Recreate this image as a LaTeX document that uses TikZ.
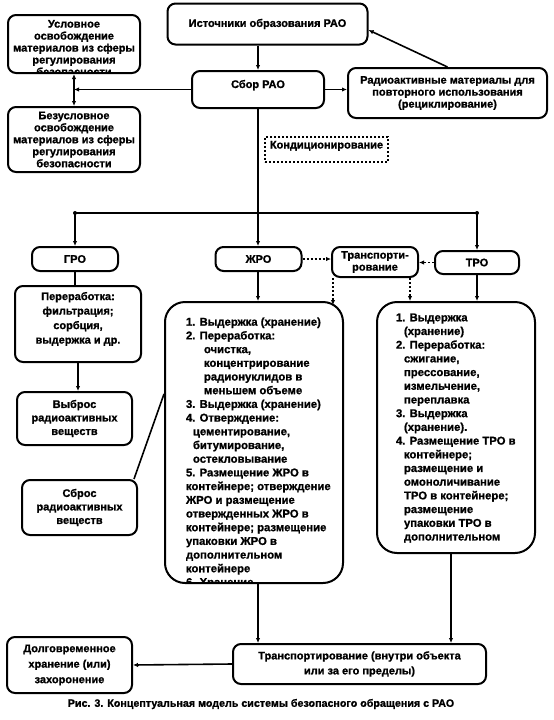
\documentclass[tikz,border=0pt]{standalone}
\usepackage{fontspec}
\setmainfont{Liberation Sans}[BoldFeatures={FakeBold=1.2}]
\usetikzlibrary{arrows.meta,calc}
\begin{document}
\begin{tikzpicture}[x=1pt,y=-1pt,
  every node/.style={font=\bfseries\fontsize{11}{12}\selectfont, inner sep=0pt},
  box/.style={draw, line width=2pt, rounded corners=8pt, align=center},
  bigbox/.style={draw, line width=2pt, rounded corners=20pt},
  inner/.style={minimum width=0pt, minimum height=0pt},
  conn/.style={line width=1.6pt},
  arr/.style={conn, -{Latex[length=5pt,width=4.5pt]}},
  dblarr/.style={conn, {Latex[length=5pt,width=4.5pt]}-{Latex[length=5pt,width=4.5pt]}},
  dotln/.style={line width=1.6pt, dash pattern=on 2pt off 2pt},
  dotarr/.style={dotln, -{Latex[length=5pt,width=4.5pt]}},
  listtext/.style={inner, anchor=north west, align=left, font=\bfseries\fontsize{11.3}{13.7}\selectfont}
]
\useasboundingbox (0,0) rectangle (554,720);

% top row
\node[box, minimum width=200pt, minimum height=41pt] (src) at (267.5,24) {Источники образования РАО};
\node[box, minimum width=132pt, minimum height=37pt, text height=8pt, text depth=11pt] (sbor) at (258,89.5) {Сбор РАО};
\node[box, minimum width=199pt, minimum height=50pt] (recyc) at (447.5,93) {Радиоактивные материалы для\\повторного использования\\(рециклирование)};

\node[box, minimum width=132pt, minimum height=58pt,
  path picture={\node[inner, anchor=north, align=center] (uslt) at ([yshift=-4pt]path picture bounding box.north) {Условное\\освобождение\\материалов из сферы\\регулирования\\безопасности};}] (usl) at (74,44) {};
\node[box, minimum width=132pt, minimum height=65pt] (bezusl) at (74,139.5) {Безусловное\\освобождение\\материалов из сферы\\регулирования\\безопасности};

\node[draw, dotln, minimum width=123pt, minimum height=25pt, text height=8pt, text depth=10pt] (cond) at (326.5,149.5) {Кондиционирование};

% second level
\node[box, minimum width=86pt, minimum height=24pt] (gro) at (75,259) {ГРО};
\node[box, minimum width=86pt, minimum height=24pt] (zhro) at (258.5,259) {ЖРО};
\node[box, minimum width=86pt, minimum height=30pt] (transp) at (375,262) {Транспорти-\\рование};
\node[box, minimum width=84pt, minimum height=23pt] (tro) at (477,262.5) {ТРО};

% left column
\node[box, minimum width=126pt, minimum height=76pt,
  path picture={\node[inner, anchor=north, align=center, font=\bfseries\fontsize{11}{14.5}\selectfont] (peret) at ([yshift=-5pt]path picture bounding box.north) {Переработка:\\фильтрация;\\сорбция,\\выдержка и др.};}] (pere) at (78,324) {};
\node[box, minimum width=115pt, minimum height=53pt, font=\bfseries\fontsize{11}{13.5}\selectfont] (vybros) at (74.5,418.5) {Выброс\\радиоактивных\\веществ};
\node[box, minimum width=115pt, minimum height=55pt, font=\bfseries\fontsize{11}{13.5}\selectfont] (sbros) at (79.5,507.5) {Сброс\\радиоактивных\\веществ};

% big boxes
\node[bigbox, minimum width=178pt, minimum height=281pt,
  path picture={\node[listtext] (zhrolist) at ($(path picture bounding box.north west)+(20,14.5)$) {%
1. Выдержка (хранение)\\
2. Переработка:\\
\hspace*{18pt}очистка,\\
\hspace*{18pt}концентрирование\\
\hspace*{18pt}радионуклидов в\\
\hspace*{18pt}меньшем объеме\\
3. Выдержка (хранение)\\
4. Отверждение:\\
\hspace*{7pt}цементирование,\\
\hspace*{7pt}битумирование,\\
\hspace*{7pt}остекловывание\\
5. Размещение ЖРО в\\
контейнере; отверждение\\
ЖРО и размещение\\
отвержденных ЖРО в\\
контейнере; размещение\\
упаковки ЖРО в\\
дополнительном\\
контейнере\\
6. Хранение};}] (zhrobig) at (254,442.5) {};

\node[bigbox, minimum width=158pt, minimum height=251pt,
  path picture={\node[listtext] (trolist) at ($(path picture bounding box.north west)+(18,10.5)$) {%
1. Выдержка\\
\hspace*{8pt}(хранение)\\
2. Переработка:\\
\hspace*{8pt}сжигание,\\
\hspace*{8pt}прессование,\\
\hspace*{8pt}измельчение,\\
\hspace*{8pt}переплавка\\
3. Выдержка\\
\hspace*{8pt}(хранение).\\
4. Размещение ТРО в\\
\hspace*{8pt}контейнере;\\
\hspace*{8pt}размещение и\\
\hspace*{8pt}омоноличивание\\
\hspace*{8pt}ТРО в контейнере;\\
\hspace*{8pt}размещение\\
\hspace*{8pt}упаковки ТРО в\\
\hspace*{8pt}дополнительном};}] (trobig) at (456,427.5) {};

% bottom
\node[box, minimum width=253pt, minimum height=40pt, font=\bfseries\fontsize{11}{15}\selectfont] (transp2) at (359.5,664) {Транспортирование (внутри объекта\\или за его пределы)};
\node[box, minimum width=125pt, minimum height=56pt, font=\bfseries\fontsize{11}{15.5}\selectfont] (dolg) at (69.5,665) {Долговременное\\хранение (или)\\захоронение};

\node[font=\bfseries\fontsize{10.7}{12}\selectfont] (caption) at (261,704) {Рис. 3. Концептуальная модель системы безопасного обращения с РАО};

% coordinates
\coordinate (jm) at (258,213);
\coordinate (jl) at (gro.north |- jm);
\coordinate (jr) at (tro.north |- jm);
\coordinate (jc) at (333,305);
\coordinate (tc) at (410,0);
\coordinate (tb) at (451,0);
\coordinate (sj) at (zhrobig.west |- 0,394);

% connectors
\draw[arr] (sbor.north |- src.south) -- (sbor.north);
\draw[arr] (sbor.east) -- (sbor.east -| recyc.west);
\draw[arr] (sbor.west) -- (sbor.west -| usl.south);
\draw[dblarr] (usl.south) -- (bezusl.north);
\draw[arr] (recyc.north) -- ([yshift=-6pt]src.east);

\draw[conn] (sbor.south) -- (jm);
\draw[conn] (jl) -- (jr);
\fill (jl) circle (2pt);
\fill (jr) circle (2pt);
\draw[arr] (jl) -- (gro.north);
\draw[arr] (jm) -- (jm |- zhro.north);
\draw[arr] (jr) -- (tro.north);

\draw[dotarr] (zhro.east) -- (zhro.east -| transp.west);
\draw[dotarr] (tro.west) -- (tro.west -| transp.east);
\draw[dotarr] (transp.south -| jc) -- (jc);
\draw[dotarr] (transp.south -| tc) -- (tc |- trobig.north);

\draw[conn] (gro.south) -- (gro.south |- pere.north);
\draw[arr] (pere.south) -- (pere.south |- vybros.north);
\draw[arr] (jm |- zhro.south) -- (jm |- zhrobig.north);
\draw[arr] (tro.south) -- (tro.south |- trobig.north);
\draw[conn] ([xshift=-4pt]sbros.north east) -- (sj);

\draw[arr] (jm |- zhrobig.south) -- (jm |- transp2.north);
\draw[arr] (tb |- trobig.south) -- (tb |- transp2.north);
\draw[arr] (transp2.west) -- (dolg.east);
\end{tikzpicture}
\end{document}
